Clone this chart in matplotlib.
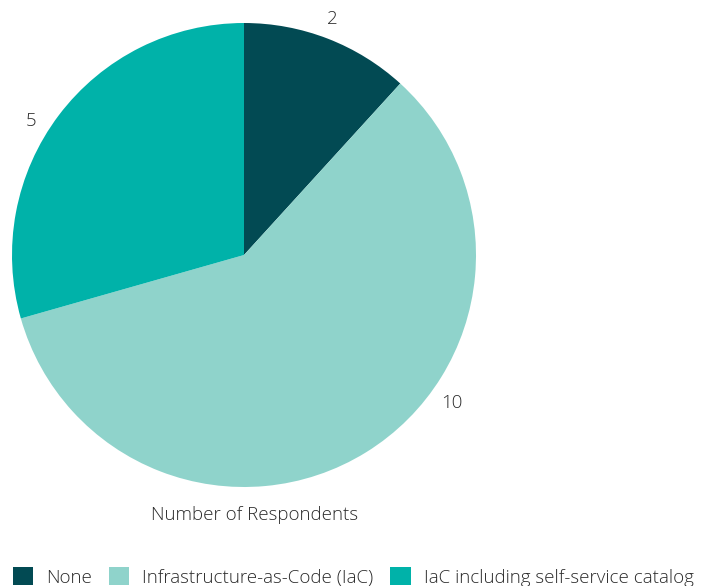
import matplotlib.pyplot as plt
from matplotlib.patches import Patch
import numpy as np

plt.rcParams['font.family'] = ['Open Sans', 'DejaVu Sans']
plt.rcParams['font.weight'] = 'light'

# respondents per provisioning approach
categories = ['None', 'Infrastructure-as-Code (IaC)', 'IaC including self-service catalog']
respondents = [2, 10, 5]
colors = ['#024a53', '#8fd3cb', '#00b2a9']

W, H = 711, 586
fig = plt.figure(figsize=(W / 100, H / 100), dpi=100)

cx, cy, r = 244, 255, 232
ax = fig.add_axes([(cx - r) / W, (H - cy - r) / H, 2 * r / W, 2 * r / H])

wedges, texts = ax.pie(respondents, colors=colors, startangle=90, counterclock=False,
                       labels=[str(v) for v in respondents], labeldistance=1.085,
                       textprops={'fontsize': 13.5, 'color': '#2b2b2b'},
                       wedgeprops={'linewidth': 0})
ax.set_xlim(-1, 1)
ax.set_ylim(-1, 1)
ax.set_aspect('equal')

# value labels sit just outside the rim
label_angles = [69.5, -35.4, 147.8]
label_dist = [1.085, 1.10, 1.085]
for t, a, d in zip(texts, label_angles, label_dist):
    t.set_position((d * np.cos(np.radians(a)), d * np.sin(np.radians(a))))
    t.set_ha('center')
    t.set_va('center')

fig.text(255 / W, 1 - 515 / H, 'Number of Respondents', ha='center', va='center',
         fontsize=13.5, color='#2b2b2b')

handles = [Patch(facecolor=c, edgecolor='none') for c in colors]
fig.legend(handles, categories, loc='lower left', bbox_to_anchor=(-0.006, -0.03),
           ncol=3, frameon=False, fontsize=13.5, handlelength=1.1, handleheight=1.1,
           handletextpad=0.7, columnspacing=0.88, labelcolor='#2b2b2b')

fig.savefig('out.png', dpi=100)
